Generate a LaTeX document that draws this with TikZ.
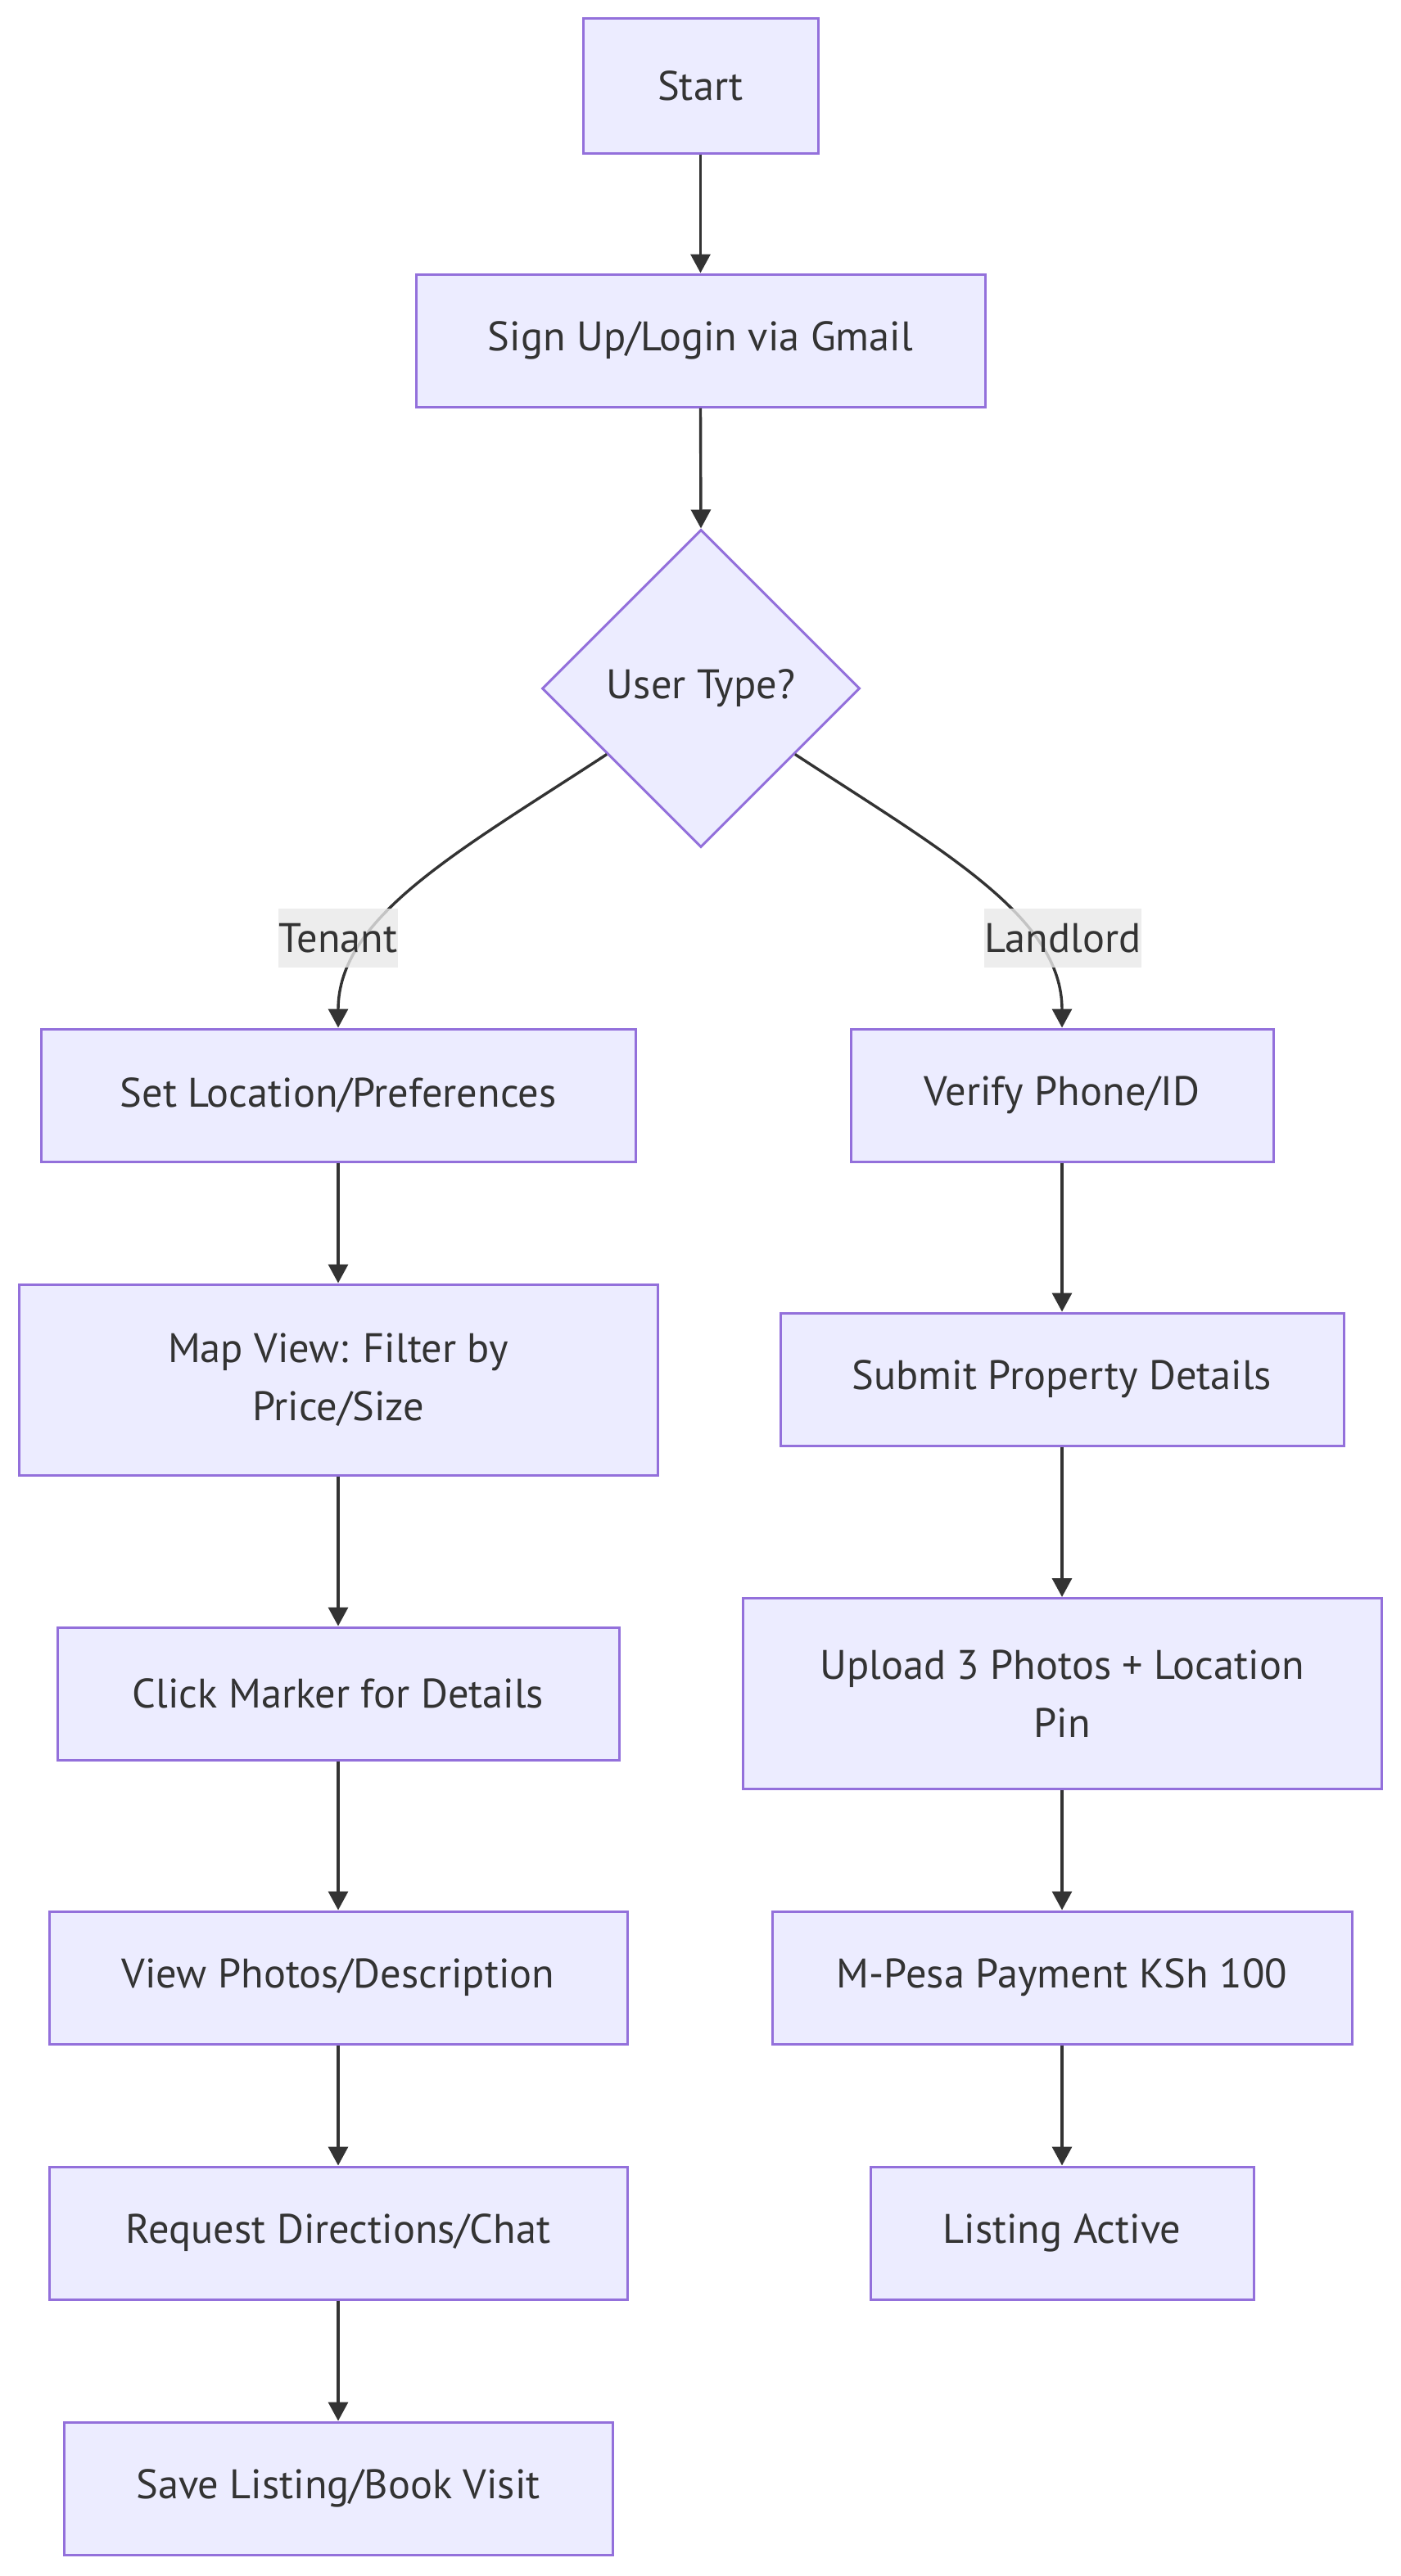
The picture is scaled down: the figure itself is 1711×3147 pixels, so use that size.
\documentclass[tikz,border=0pt]{standalone}
\usepackage{fontspec}
\setmainfont{PT Sans}
\usetikzlibrary{arrows.meta,shapes.geometric}
\definecolor{nfill}{HTML}{ECECFF}
\definecolor{nstroke}{HTML}{9370DB}
\definecolor{ink}{HTML}{333333}
\definecolor{lblbg}{HTML}{E8E8E8}
\begin{document}
\begin{tikzpicture}[x=0.5pt,y=-0.5pt,
  box/.style={draw=nstroke, fill=nfill, line width=1.5pt, text=ink,
    font=\fontsize{25.2}{35.5}\selectfont, minimum height=81pt, inner sep=0pt, align=center},
  dec/.style={box, shape=diamond, minimum width=194pt, minimum height=194pt},
  edge/.style={draw=ink, line width=1.7pt, -{Triangle[length=11.5pt,width=12pt]}},
  lbl/.style={fill=lblbg, fill opacity=0.8, text opacity=1, text=ink,
    font=\fontsize{25.2}{30}\selectfont, inner xsep=0.5pt, inner ysep=0pt, minimum height=36pt}
]
\useasboundingbox (0,0) rectangle (1711,3147);
\node[box, minimum width=143.5pt, minimum height=82pt] (start) at (855.5,105) {Start};
\node[box, minimum width=347.5pt] (signup) at (855.5,416) {Sign Up/Login via Gmail};
\node[dec] (dia) at (856,841) {User Type?};
\node[box, minimum width=363pt] (setloc) at (413,1338) {Set Location/Preferences};
\node[box, minimum width=258pt] (verify) at (1297,1338) {Verify Phone/ID};
\node[box, minimum width=390pt, minimum height=116.5pt] (map) at (413,1685.5) {Map View: Filter by\\Price/Size};
\node[box, minimum width=344pt] (submit) at (1297,1685) {Submit Property Details};
\node[box, minimum width=343pt] (click) at (413,2069) {Click Marker for Details};
\node[box, minimum width=390pt, minimum height=116.5pt] (upload) at (1297,2069) {Upload 3 Photos + Location\\Pin};
\node[box, minimum width=353pt] (view) at (413,2416) {View Photos/Description};
\node[box, minimum width=354pt] (mpesa) at (1297,2416) {M-Pesa Payment KSh 100};
\node[box, minimum width=353pt] (request) at (413,2728) {Request Directions/Chat};
\node[box, minimum width=234pt] (listing) at (1297,2728) {Listing Active};
\node[box, minimum width=335pt] (save) at (413,3040) {Save Listing/Book Visit};

\draw[edge] (start.south) -- (signup.north);
\draw[edge] (signup.south) -- (dia.north);
\draw[edge] (dia.-145) .. controls (560,1040) and (413,1120) .. (setloc.north);
\draw[edge] (dia.-35) .. controls (1152,1040) and (1297,1120) .. (verify.north);
\draw[edge] (setloc) -- (map);
\draw[edge] (map) -- (click);
\draw[edge] (click) -- (view);
\draw[edge] (view) -- (request);
\draw[edge] (request) -- (save);
\draw[edge] (verify) -- (submit);
\draw[edge] (submit) -- (upload);
\draw[edge] (upload) -- (mpesa);
\draw[edge] (mpesa) -- (listing);

\node[lbl] (tl) at (413,1146) {Tenant};
\node[lbl] (ll) at (1298,1146) {Landlord};
\end{tikzpicture}
\end{document}
